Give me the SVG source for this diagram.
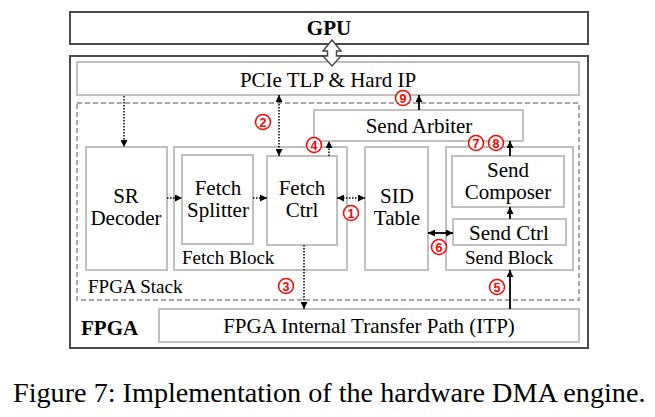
<svg xmlns="http://www.w3.org/2000/svg" width="655" height="417" viewBox="0 0 655 417">
<style>
text{font-family:"Liberation Serif","Times New Roman",serif;fill:#000}
.outer{fill:none;stroke:#4a4a4a;stroke-width:2}
.box{fill:#fff;stroke:#c0c0c0;stroke-width:2}
.stack{fill:none;stroke:#a8a8a8;stroke-width:2;stroke-dasharray:5 3}
.t{font-size:21px;text-anchor:middle}
.lbl{font-size:19px}
.b{font-weight:bold;font-size:21px}
.dot{stroke:#000;stroke-width:1.5;stroke-dasharray:1.5 1.5;fill:none}
.sol{stroke:#000;stroke-width:1.8;fill:none}
.num circle{fill:#fff;stroke:#f00;stroke-width:1.5}
.num text{font-family:"Liberation Sans",Arial,sans-serif;font-size:12.5px;font-weight:bold;fill:#f00;text-anchor:middle}
</style>
<defs>
<marker id="ah" viewBox="0 0 8 8" refX="8" refY="4" markerWidth="7" markerHeight="7" markerUnits="userSpaceOnUse" orient="auto-start-reverse">
<path d="M0,0 L8,4 L0,8 z" fill="#000"/>
</marker>
</defs>
<rect width="655" height="417" fill="#fff"/>
<g id="gpu">
<rect class="outer" x="70" y="12" width="518" height="32" fill="#fff"/>
<text class="b" x="329" y="35" text-anchor="middle">GPU</text>
</g>
<g id="fpga">
<rect class="outer" x="70" y="56" width="518" height="292"/>
<text class="b" x="81" y="335">FPGA</text>
</g>
<g id="pcie">
<rect class="box" x="77" y="62" width="502" height="33"/>
<text class="t" x="328" y="87">PCIe TLP &amp; Hard IP</text>
</g>
<g id="fpga-stack">
<rect class="stack" x="77" y="103" width="502" height="197"/>
<text class="lbl" x="88" y="293">FPGA Stack</text>
</g>
<g id="send-arbiter">
<rect class="box" x="314" y="110" width="209" height="31"/>
<text class="t" x="419" y="133">Send Arbiter</text>
</g>
<g id="sr-decoder">
<rect class="box" x="86" y="147" width="81" height="123"/>
<text class="t" x="126" y="203"><tspan x="126">SR</tspan><tspan x="126" dy="22">Decoder</tspan></text>
</g>
<g id="fetch-block">
<rect class="box" x="174" y="147" width="173" height="123"/>
<text class="lbl" x="182" y="264">Fetch Block</text>
</g>
<g id="fetch-splitter">
<rect class="box" x="182" y="155" width="71" height="89"/>
<text class="t" x="218" y="195"><tspan x="218">Fetch</tspan><tspan x="218" dy="22">Splitter</tspan></text>
</g>
<g id="fetch-ctrl">
<rect class="box" x="267" y="156" width="70" height="89"/>
<text class="t" x="302" y="195"><tspan x="302">Fetch</tspan><tspan x="302" dy="22">Ctrl</tspan></text>
</g>
<g id="sid-table">
<rect class="box" x="365" y="147" width="63" height="123"/>
<text class="t" x="397" y="203"><tspan x="397">SID</tspan><tspan x="397" dy="22">Table</tspan></text>
</g>
<g id="send-block">
<rect class="box" x="446" y="147" width="127" height="123"/>
<text class="lbl" x="509" y="264" text-anchor="middle">Send Block</text>
</g>
<g id="send-composer">
<rect class="box" x="452" y="156" width="112" height="51"/>
<text class="t" x="508" y="177"><tspan x="508">Send</tspan><tspan x="508" dy="22">Composer</tspan></text>
</g>
<g id="send-ctrl">
<rect class="box" x="453" y="219" width="113" height="26"/>
<text class="t" x="509" y="240">Send Ctrl</text>
</g>
<g id="itp">
<rect class="box" x="159" y="309" width="420" height="33"/>
<text class="t" x="369" y="333">FPGA Internal Transfer Path (ITP)</text>
</g>
<g id="connectors">
<polygon points="332,40 341,51 336.5,51 336.5,56 341,56 332,66 323,56 327.5,56 327.5,51 323,51" fill="#fff" stroke="#4a4a4a" stroke-width="1.5"/>
<line class="dot" x1="124" y1="96" x2="124" y2="147" marker-end="url(#ah)"/>
<line class="dot" x1="279" y1="95" x2="279" y2="156" marker-start="url(#ah)" marker-end="url(#ah)"/>
<line class="dot" x1="167" y1="198" x2="182" y2="198" marker-end="url(#ah)"/>
<line class="dot" x1="253" y1="198" x2="267" y2="198" marker-end="url(#ah)"/>
<line class="dot" x1="337" y1="198" x2="365" y2="198" marker-start="url(#ah)" marker-end="url(#ah)"/>
<line class="dot" x1="329" y1="156" x2="329" y2="141" marker-end="url(#ah)"/>
<line class="dot" x1="304" y1="245" x2="304" y2="309" marker-end="url(#ah)"/>
<line class="sol" x1="428" y1="233" x2="453" y2="233" marker-start="url(#ah)" marker-end="url(#ah)"/>
<line class="sol" x1="510" y1="219" x2="510" y2="207" marker-end="url(#ah)"/>
<line class="sol" x1="510" y1="156" x2="510" y2="141" marker-end="url(#ah)"/>
<line class="sol" x1="419" y1="110" x2="419" y2="95" marker-end="url(#ah)"/>
<line class="sol" x1="510" y1="309" x2="510" y2="270" marker-end="url(#ah)"/>
</g>
<g id="step-numbers" class="num">
<g><circle cx="351" cy="213" r="7.5"/><text x="351" y="217.5">1</text></g>
<g><circle cx="263" cy="122" r="7.5"/><text x="263" y="126.5">2</text></g>
<g><circle cx="286" cy="286" r="7.5"/><text x="286" y="290.5">3</text></g>
<g><circle cx="314" cy="145" r="7.5"/><text x="314" y="149.5">4</text></g>
<g><circle cx="497" cy="287" r="7.5"/><text x="497" y="291.5">5</text></g>
<g><circle cx="439" cy="247" r="7.5"/><text x="439" y="251.5">6</text></g>
<g><circle cx="476" cy="143" r="7.5"/><text x="476" y="147.5">7</text></g>
<g><circle cx="496" cy="143" r="7.5"/><text x="496" y="147.5">8</text></g>
<g><circle cx="403" cy="98" r="7.5"/><text x="403" y="102.5">9</text></g>
</g>
<text x="13" y="402" style="font-size:28.2px">Figure 7: Implementation of the hardware DMA engine.</text>
</svg>
